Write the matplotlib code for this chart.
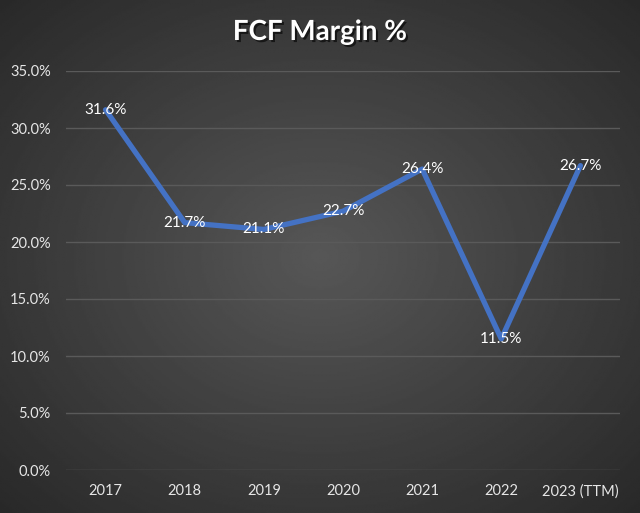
import numpy as np
import matplotlib.pyplot as plt
import matplotlib.patheffects as pe

years = ["2017", "2018", "2019", "2020", "2021", "2022", "2023 (TTM)"]
fcf_margin = [31.6, 21.7, 21.1, 22.7, 26.4, 11.5, 26.7]
yticks = [0, 5, 10, 15, 20, 25, 30, 35]

plt.rcParams['font.family'] = ['Lato', 'DejaVu Sans']

fig = plt.figure(figsize=(6.4, 5.13), dpi=100)

# radial gradient background
bg = fig.add_axes([0, 0, 1, 1])
yy, xx = np.mgrid[-1:1:300j, -1:1:400j]
r = np.sqrt(xx ** 2 + yy ** 2) / np.sqrt(2)
bg.imshow(0.34 - 0.18 * r, cmap='gray', vmin=0, vmax=1, aspect='auto', extent=[0, 1, 0, 1])
bg.axis('off')

ax = fig.add_axes([66 / 640, 1 - 470 / 513, 554 / 640, 399 / 513])
ax.patch.set_alpha(0)
x = np.arange(len(years))
ax.plot(x, fcf_margin, color='#4472C4', lw=3.8, solid_capstyle='round')
for xi, v in zip(x, fcf_margin):
    ax.text(xi, v, f"{v:.1f}%", color='white', fontsize=11, ha='center', va='center')

ax.set_xlim(-0.5, len(years) - 0.5)
ax.set_ylim(0, 35)
ax.set_yticks(yticks)
ax.set_yticklabels([f"{t:.1f}%" for t in yticks])
ax.set_xticks(x)
ax.set_xticklabels(years)
ax.tick_params(colors='#e6e6e6', labelsize=10.5, length=0)
ax.tick_params(axis='x', pad=10)
ax.tick_params(axis='y', pad=11)
ax.grid(axis='y', color='#5a5a5a', lw=1)
ax.set_axisbelow(True)
for s in ax.spines.values():
    s.set_visible(False)

fig.text(0.5, 1 - 32 / 513, "FCF Margin %", color='white', fontsize=20, fontweight='bold',
         ha='center', va='center',
         path_effects=[pe.withSimplePatchShadow(offset=(1.5, -1.5), shadow_rgbFace='black', alpha=0.6)])

fig.savefig("out.png", dpi=100)
